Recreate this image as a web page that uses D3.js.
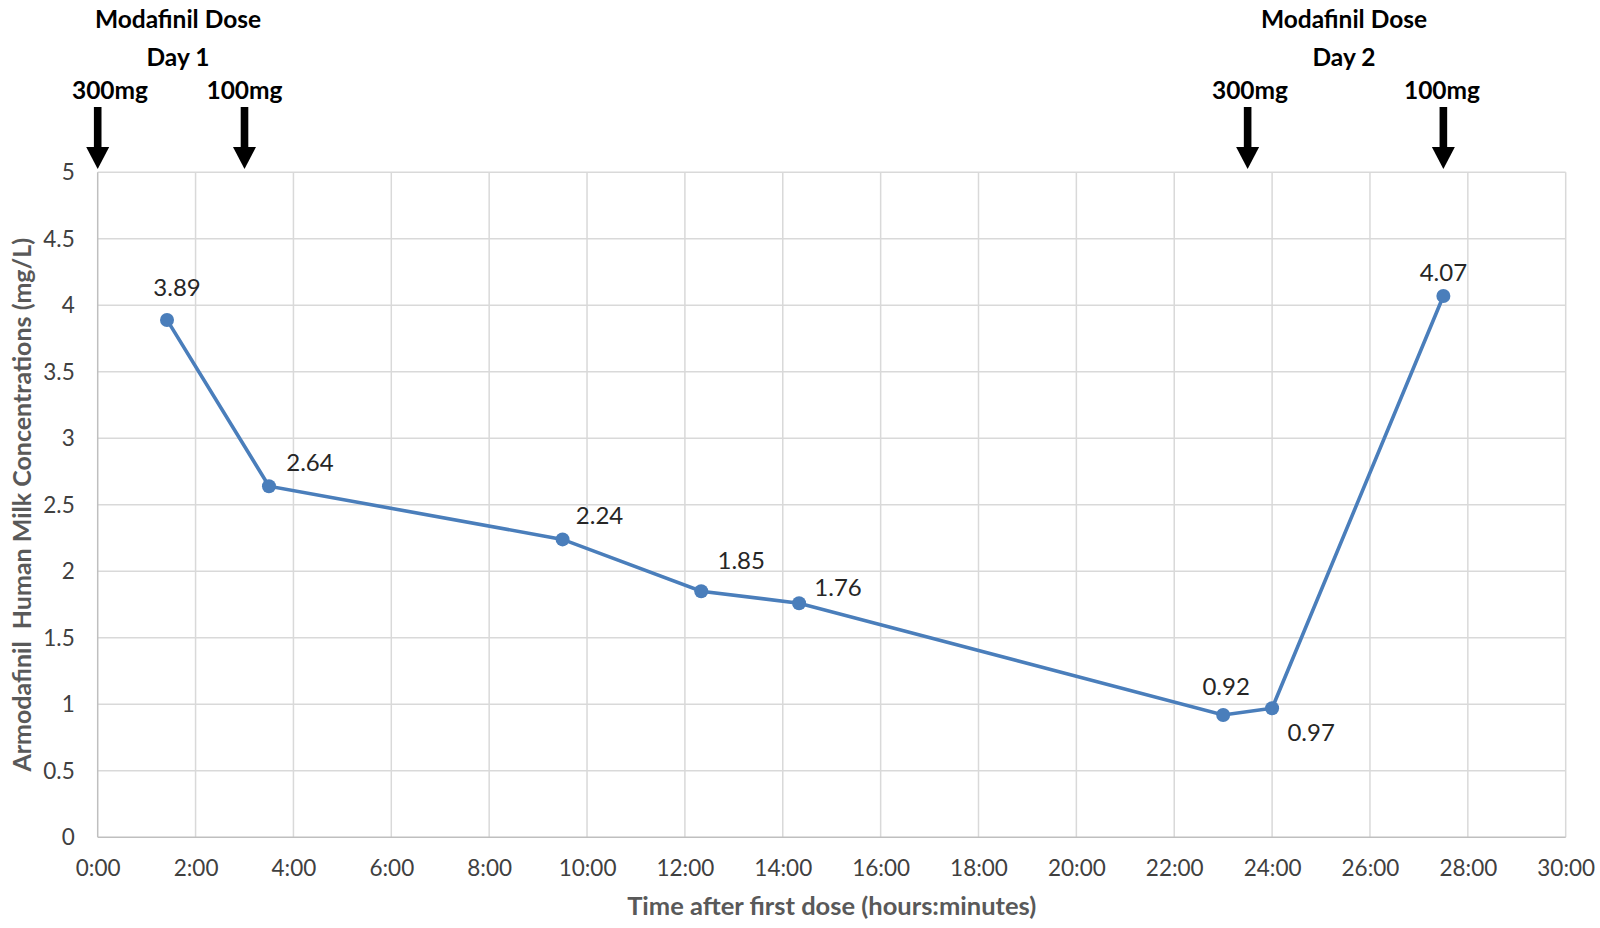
<!DOCTYPE html>
<html>
<head>
<meta charset="utf-8">
<script src="https://cdn.jsdelivr.net/npm/d3@7"></script>
<style>
  html, body { margin: 0; padding: 0; background: #fff; }
  svg { display: block; }
  text { font-family: Lato, "Open Sans", sans-serif; }
</style>
</head>
<body>
<svg id="chart" width="1600" height="928"></svg>
<script>
// ---- data ----
const timesMin = [85, 210, 570, 740, 860, 1380, 1440, 1650];
const concentrations = [3.89, 2.64, 2.24, 1.85, 1.76, 0.92, 0.97, 4.07];
const xTickHours = [0, 2, 4, 6, 8, 10, 12, 14, 16, 18, 20, 22, 24, 26, 28, 30];
const yTicks = [0, 0.5, 1, 1.5, 2, 2.5, 3, 3.5, 4, 4.5, 5];
const doseTimesMin = [0, 180, 1410, 1650];
const doseLabels = ["300mg", "100mg", "300mg", "100mg"];
const dayHeaders = ["Modafinil Dose", "Modafinil Dose"];
const dayLabels = ["Day 1", "Day 2"];
const xTitle = "Time after first dose (hours:minutes)";
const yTitle = "Armodafinil\u00A0 Human Milk Concentrations (mg/L)";

// ---- layout ----
const W = 1600, H = 928;
const m = { left: 97.7, right: W - 1565.7, top: 172.3, bottom: H - 837.3 };
const svg = d3.select("#chart");

const x = d3.scaleLinear().domain([0, 30 * 60]).range([m.left, W - m.right]);
const y = d3.scaleLinear().domain([0, 5]).range([H - m.bottom, m.top]);

const fmtTime = mins => `${Math.floor(mins / 60)}:${String(mins % 60).padStart(2, "0")}`;

// grid
const g = svg.append("g");
g.selectAll("line.hg").data(yTicks.slice(1)).join("line")
  .attr("x1", x.range()[0]).attr("x2", x.range()[1])
  .attr("y1", d => y(d)).attr("y2", d => y(d))
  .attr("stroke", "#d9d9d9").attr("stroke-width", 1.5);
g.selectAll("line.vg").data(xTickHours.slice(1)).join("line")
  .attr("x1", d => x(d * 60)).attr("x2", d => x(d * 60))
  .attr("y1", y(0)).attr("y2", y(5))
  .attr("stroke", "#d9d9d9").attr("stroke-width", 1.5);

// axes lines
g.append("line").attr("x1", x(0)).attr("x2", x(1800)).attr("y1", y(0)).attr("y2", y(0))
  .attr("stroke", "#bfbfbf").attr("stroke-width", 1.5);
g.append("line").attr("x1", x(0)).attr("x2", x(0)).attr("y1", y(0)).attr("y2", y(5))
  .attr("stroke", "#bfbfbf").attr("stroke-width", 1.5);

// axis tick labels using d3 axes
const xAxis = d3.axisBottom(x).tickValues(xTickHours.map(h => h * 60)).tickFormat(fmtTime).tickSize(0).tickPadding(23);
const xg = svg.append("g").attr("transform", `translate(0,${y(0)})`).call(xAxis);
xg.select(".domain").remove();
xg.selectAll("text").attr("font-size", 22.5).attr("fill", "#404040").attr("font-family", "Lato, 'Open Sans', sans-serif");

const yAxis = d3.axisLeft(y).tickValues(yTicks).tickFormat(d => String(d)).tickSize(0).tickPadding(23);
const yg = svg.append("g").attr("transform", `translate(${x(0)},0)`).call(yAxis);
yg.select(".domain").remove();
yg.selectAll("text").attr("font-size", 22.5).attr("fill", "#404040").attr("font-family", "Lato, 'Open Sans', sans-serif");

// axis titles
svg.append("text").attr("x", (x.range()[0] + x.range()[1]) / 2).attr("y", 915)
  .attr("text-anchor", "middle").attr("font-size", 25.5).attr("font-weight", "bold")
  .attr("fill", "#595959").text(xTitle);
svg.append("text").attr("transform", `translate(31,${(y(0) + y(5)) / 2}) rotate(-90)`)
  .attr("text-anchor", "middle").attr("font-size", 25).attr("font-weight", "bold")
  .attr("fill", "#595959").text(yTitle);

// line + markers
const data = timesMin.map((t, i) => ({ t, v: concentrations[i] }));
const line = d3.line().x(d => x(d.t)).y(d => y(d.v));
svg.append("path").datum(data).attr("d", line)
  .attr("fill", "none").attr("stroke", "#4a7ebb").attr("stroke-width", 3.6);
svg.selectAll("circle.pt").data(data).join("circle")
  .attr("cx", d => x(d.t)).attr("cy", d => y(d.v)).attr("r", 7)
  .attr("fill", "#4a7ebb");

// data labels (offsets in px relative to point)
const labelOffsets = [[10, -33], [41, -24], [37, -24], [40, -31], [39, -16], [3, -29], [39, 24], [0, -24]];
svg.selectAll("text.dl").data(data).join("text")
  .attr("x", (d, i) => x(d.t) + labelOffsets[i][0])
  .attr("y", (d, i) => y(d.v) + labelOffsets[i][1])
  .attr("dy", "0.36em")
  .attr("text-anchor", "middle").attr("font-size", 24).attr("fill", "#262626")
  .text(d => d.v.toFixed(2));

// dose arrows
const arrowG = svg.append("g");
doseTimesMin.forEach((t, i) => {
  const cx = x(t);
  const tip = 169, headTop = 147, shaftTop = 107;
  arrowG.append("rect").attr("x", cx - 3.8).attr("y", shaftTop).attr("width", 7.6).attr("height", headTop - shaftTop + 1)
    .attr("fill", "#000");
  arrowG.append("path")
    .attr("d", `M${cx - 11.5},${headTop} L${cx + 11.5},${headTop} L${cx},${tip} Z`)
    .attr("fill", "#000");
});

// dose labels
const doseLabelX = [110, x(180), 1250, 1442];
doseLabels.forEach((lab, i) => {
  svg.append("text").attr("x", doseLabelX[i]).attr("y", 99)
    .attr("text-anchor", "middle").attr("font-size", 24.5).attr("font-weight", "bold")
    .attr("fill", "#000").text(lab);
});
const dayX = [178, 1344];
dayHeaders.forEach((h, i) => {
  svg.append("text").attr("x", dayX[i]).attr("y", 28)
    .attr("text-anchor", "middle").attr("font-size", 24.5).attr("font-weight", "bold")
    .attr("fill", "#000").text(h);
  svg.append("text").attr("x", dayX[i]).attr("y", 66)
    .attr("text-anchor", "middle").attr("font-size", 24.5).attr("font-weight", "bold")
    .attr("fill", "#000").text(dayLabels[i]);
});
</script>
</body>
</html>
